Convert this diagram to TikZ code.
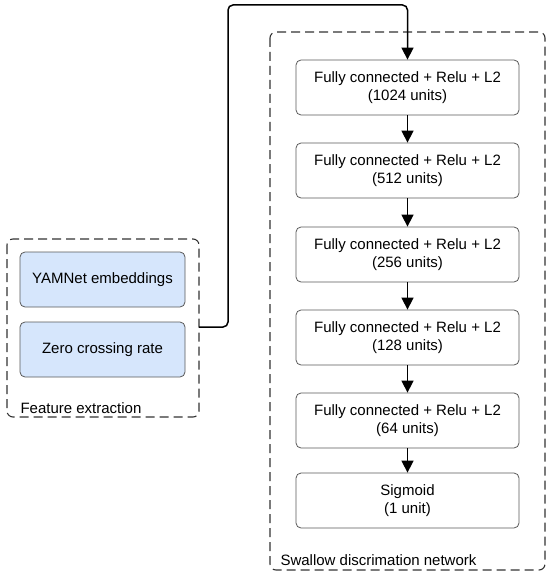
\documentclass[tikz,border=0pt]{standalone}
\usepackage{fontspec}
\setmainfont{Liberation Sans}
\usetikzlibrary{arrows.meta}

\definecolor{featblue}{RGB}{214,230,252}

\begin{document}
\begin{tikzpicture}[x=1pt, y=-1pt, >={Triangle[length=12pt, width=12pt]},
    layer/.style={draw=black!65, line width=0.8pt, rounded corners=5pt, minimum width=223pt, minimum height=55pt, align=center, font=\fontsize{15}{18}\selectfont},
    feat/.style={layer, fill=featblue, minimum width=165pt},
    group/.style={draw=black!80, dash pattern=on 9pt off 5pt, rounded corners=6pt, line width=1.1pt},
    flow/.style={->, line width=1.5pt}]
    \useasboundingbox (0, 0) rectangle (550, 575);

    % Feature extraction
    \draw [group] (7, 239) rectangle (199, 417);
    \node [feat] (yam) at (102.5, 279.5) {YAMNet embeddings};
    \node [feat] (zcr) at (102.5, 349.5) {Zero crossing rate};
    \node [anchor=west, font=\fontsize{15}{18}\selectfont] (featlbl) at (17, 408) {Feature extraction};
    \coordinate (featout) at (199, 327);

    % Swallow discrimation network
    \draw [group] (270, 32) rectangle (545, 570);
    \foreach \y/\n/\t in {87.5/l1/{1024 units}, 170.5/l2/{512 units}, 254.5/l3/{256 units},
                          337.5/l4/{128 units}, 420.5/l5/{64 units}}
        \node [layer] (\n) at (407.5, \y) {Fully connected + Relu + L2\\(\t)};
    \node [layer] (sig) at (407.5, 500.5) {Sigmoid\\(1 unit)};
    \node [anchor=west, font=\fontsize{15}{18}\selectfont] (netlbl) at (277, 560) {Swallow discrimation network};

    % Connections
    \draw [flow, rounded corners=5pt] (featout) -- (228, 327) -- (228, 5) -- (407.5, 5) -- (l1.north);
    \foreach \a/\b in {l1/l2, l2/l3, l3/l4, l4/l5, l5/sig}
        \draw [flow] (\a.south) -- (\b.north);
\end{tikzpicture}
\end{document}
